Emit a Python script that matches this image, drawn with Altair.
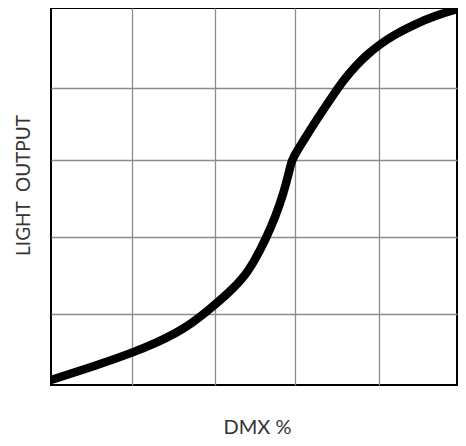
import altair as alt
import pandas as pd

# DMX % (x) and light output % (y)
dmx = [0.0, 11.46, 20.00, 26.10, 30.98, 34.63, 38.29, 43.17, 44.99, 46.83,
       48.41, 50.00, 52.93, 55.37, 57.32, 58.54, 59.27, 60.73, 62.20, 65.12,
       70.00, 72.44, 74.88, 77.80, 80.98, 84.88, 89.51, 94.63, 100.0]
light = [1.33, 5.31, 8.55, 11.25, 13.90, 16.39, 19.39, 23.90, 25.81, 27.88,
         30.08, 32.71, 38.75, 44.85, 51.06, 56.03, 59.68, 62.28, 64.83, 69.87,
         77.77, 81.33, 84.43, 87.59, 90.37, 93.08, 95.65, 97.93, 99.70]

# grid line positions
x_grid = [19.9, 40.4, 60.2, 80.7]
y_grid = [18.8, 39.2, 59.6, 78.7]

df = pd.DataFrame({"dmx": dmx, "light": light})

FONT = "Lato"

chart = alt.Chart(df).mark_line(
    color="black", strokeWidth=8.5, interpolate="basis", clip=True
).encode(
    x=alt.X(
        "dmx:Q",
        scale=alt.Scale(domain=[0, 100], nice=False, zero=False),
        axis=alt.Axis(
            values=x_grid, grid=True, labels=False, ticks=False, domain=False,
            title="DMX %", titleFont=FONT, titleFontSize=20,
            titleFontWeight="normal", titleColor="#333333",
            titleX=206, titleAlign="center",
            titleY=48, titleBaseline="alphabetic",
        ),
    ),
    y=alt.Y(
        "light:Q",
        scale=alt.Scale(domain=[0, 100], nice=False, zero=False),
        axis=alt.Axis(
            values=y_grid, grid=True, labels=False, ticks=False, domain=False,
            title="LIGHT\u00a0\u00a0OUTPUT", titleFont=FONT, titleFontSize=19,
            titleFontWeight="normal", titleColor="#333333",
            titleX=-22, titleY=177, titleBaseline="alphabetic",
            titleAlign="center", titleAngle=270,
        ),
    ),
).properties(
    width=406,
    height=377,
    padding={"left": 43, "top": 0, "right": 1, "bottom": 53},
    autosize=alt.AutoSizeParams(type="none"),
).configure_view(
    stroke="black", strokeWidth=2
).configure_axis(
    gridColor="#8c8c8c", gridWidth=1.3, gridOpacity=1
)

chart.save("out.html", embed_options={"renderer": "svg", "actions": False})
